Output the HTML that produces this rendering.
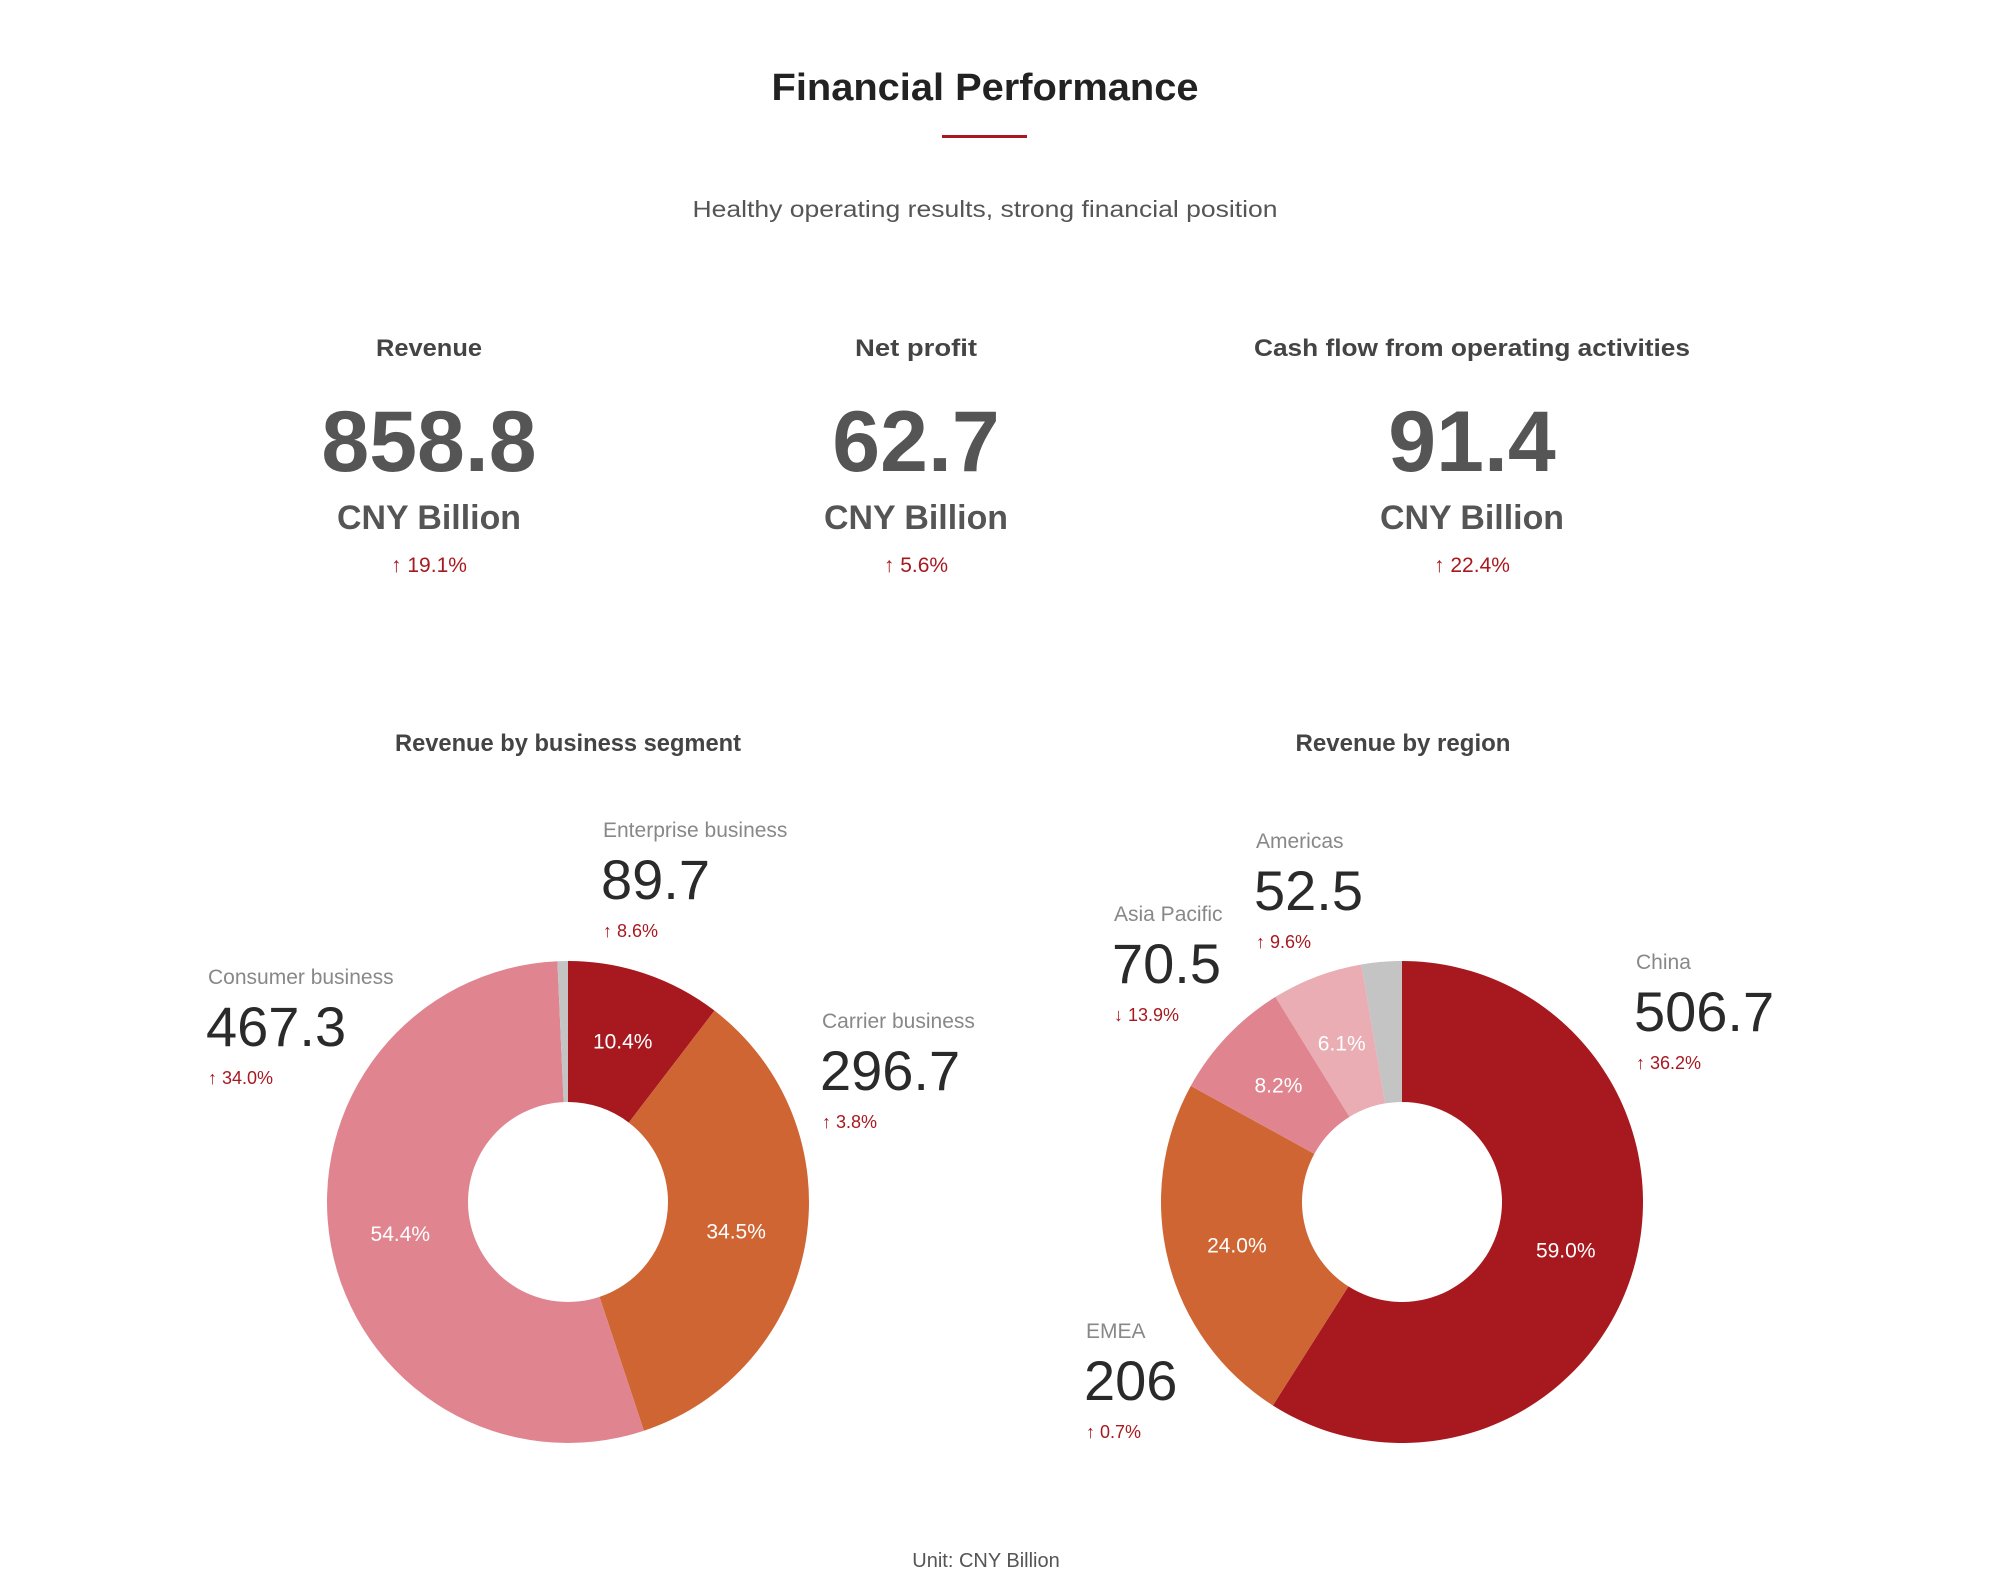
<!DOCTYPE html>
<html><head><meta charset="utf-8"><style>
html,body{margin:0;padding:0;background:#fff;}
svg{display:block;font-family:"Liberation Sans",sans-serif;}
</style></head><body>
<svg id="chart" width="2000" height="1591" viewBox="0 0 2000 1591">
<text x="985" y="100" text-anchor="middle" font-size="38" font-weight="bold" fill="#222" textLength="427" lengthAdjust="spacingAndGlyphs">Financial Performance</text>
<rect x="942" y="135" width="85" height="3" fill="#a8191f"/>
<text x="985" y="217" text-anchor="middle" font-size="23" fill="#555" textLength="585" lengthAdjust="spacingAndGlyphs">Healthy operating results, strong financial position</text>
<g id="kpis"></g>
<text x="568" y="751" text-anchor="middle" font-size="24" font-weight="bold" fill="#444" textLength="346" lengthAdjust="spacingAndGlyphs">Revenue by business segment</text>
<text x="1403" y="751" text-anchor="middle" font-size="24" font-weight="bold" fill="#444" textLength="215" lengthAdjust="spacingAndGlyphs">Revenue by region</text>
<g id="donut1"></g>
<g id="donut2"></g>
<g id="annots"></g>
<text x="986" y="1567" text-anchor="middle" font-size="20" fill="#555">Unit: CNY Billion</text>
</svg>
<script>
const kpiLabels = ["Revenue", "Net profit", "Cash flow from operating activities"];
const kpiValues = ["858.8", "62.7", "91.4"];
const kpiGrowth = ["19.1%", "5.6%", "22.4%"];

const segNames = ["Enterprise business", "Carrier business", "Consumer business", "Other"];
const segShares = [10.4, 34.5, 54.4, 0.7];
const segValues = ["89.7", "296.7", "467.3"];
const segGrowth = ["↑ 8.6%", "↑ 3.8%", "↑ 34.0%"];

const regNames = ["China", "EMEA", "Asia Pacific", "Americas", "Other"];
const regShares = [59.0, 24.0, 8.2, 6.1, 2.7];
const regValues = ["506.7", "206", "70.5", "52.5"];
const regGrowth = ["↑ 36.2%", "↑ 0.7%", "↓ 13.9%", "↑ 9.6%"];

const NS = "http://www.w3.org/2000/svg";
function mk(tag, attrs, parent, txt){
  const e = document.createElementNS(NS, tag);
  for (const k in attrs) e.setAttribute(k, attrs[k]);
  if (txt !== undefined) e.textContent = txt;
  parent.appendChild(e);
  return e;
}

const kg = document.getElementById('kpis');
const kpiX = [429, 916, 1472];
const kpiLW = [106, 122, 436];
kpiLabels.forEach((l, i) => {
  const t1 = mk('text', {x: kpiX[i], y: 356, 'text-anchor': 'middle', 'font-size': 24, 'font-weight': 'bold', fill: '#444', textLength: kpiLW[i], lengthAdjust: 'spacingAndGlyphs'}, kg, l);
  
  
  const t2 = mk('text', {x: kpiX[i], y: 471, 'text-anchor': 'middle', 'font-size': 86, 'font-weight': 'bold', fill: '#555'}, kg, kpiValues[i]);
  
  
  const t3 = mk('text', {x: kpiX[i], y: 529, 'text-anchor': 'middle', 'font-size': 34, 'font-weight': 'bold', fill: '#555', textLength: 184, lengthAdjust: 'spacingAndGlyphs'}, kg, 'CNY Billion');
  
  
  const t4 = mk('text', {x: kpiX[i], y: 572, 'text-anchor': 'middle', 'font-size': 21, fill: '#a8191f'}, kg, '↑ ' + kpiGrowth[i]);
  
  
});

function donut(gid, cx, cy, R, r, shares, colors, names, showPct){
  const g = document.getElementById(gid);
  const total = shares.reduce((a, b) => a + b, 0);
  let acc = 0;
  shares.forEach((s, i) => {
    const a0 = acc / total * 2 * Math.PI, a1 = (acc + s) / total * 2 * Math.PI;
    acc += s;
    const P = (rad, a) => [cx + rad * Math.sin(a), cy - rad * Math.cos(a)];
    const large = (a1 - a0) > Math.PI ? 1 : 0;
    const [x0, y0] = P(R, a0), [x1, y1] = P(R, a1), [x2, y2] = P(r, a1), [x3, y3] = P(r, a0);
    const d = `M${x0},${y0} A${R},${R} 0 ${large} 1 ${x1},${y1} L${x2},${y2} A${r},${r} 0 ${large} 0 ${x3},${y3} Z`;
    const p = mk('path', {d: d, fill: colors[i]}, g);
    
    
    if (showPct[i]) {
      const am = (a0 + a1) / 2, rm = (R + r) / 2;
      const [tx, ty] = P(rm, am);
      const t = mk('text', {x: tx, y: ty + 8, 'text-anchor': 'middle', 'font-size': 21, fill: '#fff'}, g, s.toFixed(1) + '%');
      
      
    }
  });
}
donut('donut1', 568, 1202, 241, 100, segShares, ['#a8191f', '#d06534', '#e08590', '#c4c4c4'], segNames, [1, 1, 1, 0]);
donut('donut2', 1402, 1202, 241, 100, regShares, ['#a8191f', '#d06534', '#e08590', '#e9adb3', '#c4c4c4'], regNames, [1, 1, 1, 1, 0]);

const ag = document.getElementById('annots');
function annot(x, y, label, value, growth){
  const t1 = mk('text', {x: x, y: y, 'font-size': 21, fill: '#888'}, ag, label);
  
  
  const t2 = mk('text', {x: x - 2, y: y + 62, 'font-size': 56, fill: '#2a2a2a'}, ag, value);
  
  
  const t3 = mk('text', {x: x, y: y + 100, 'font-size': 18, fill: '#a8191f'}, ag, growth);
  
  
}
annot(603, 837, segNames[0], segValues[0], segGrowth[0]);
annot(822, 1028, segNames[1], segValues[1], segGrowth[1]);
annot(208, 984, segNames[2], segValues[2], segGrowth[2]);
annot(1636, 969, regNames[0], regValues[0], regGrowth[0]);
annot(1086, 1338, regNames[1], regValues[1], regGrowth[1]);
annot(1114, 921, regNames[2], regValues[2], regGrowth[2]);
annot(1256, 848, regNames[3], regValues[3], regGrowth[3]);
</script>
</body></html>
